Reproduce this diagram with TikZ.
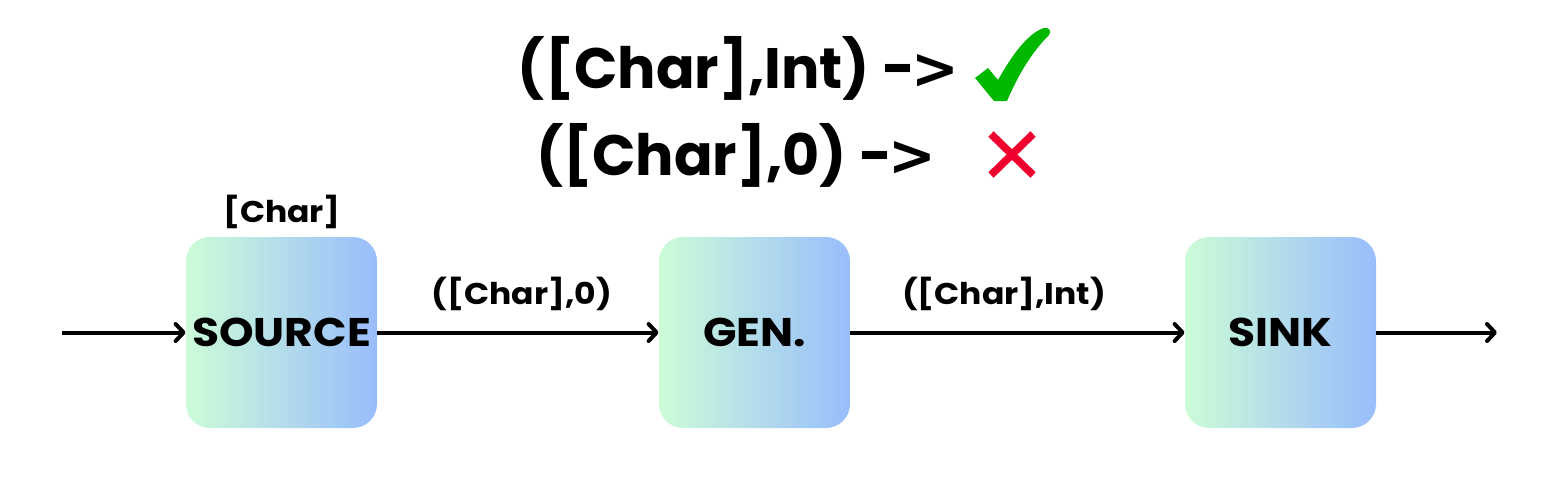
\documentclass[tikz,border=0pt]{standalone}
\usepackage{fontspec}
\setmainfont{Poppins}
\newfontfamily\widefont{Poppins}[FakeStretch=1.1]
\newfontfamily\gtfont{DejaVu Sans}
\newcommand{\bigarrow}{-\kern-0.06em{\gtfont\bfseries >}}
\usetikzlibrary{arrows.meta}
\definecolor{boxleft}{RGB}{204,252,216}
\definecolor{boxright}{RGB}{153,189,252}
\definecolor{okgreen}{RGB}{0,184,0}
\definecolor{badred}{RGB}{240,0,45}
\tikzset{
  stage/.style={rounded corners=12pt, left color=boxleft, right color=boxright, draw=none,
    minimum width=95.5pt, minimum height=95.5pt, inner sep=0pt,
    font=\widefont\fontsize{20}{24}\selectfont\bfseries},
  flow/.style={line width=2pt, -{Straight Barb[length=4pt,width=8.5pt,line width=2pt,round]}},
  lbl/.style={inner sep=0pt, font=\widefont\fontsize{15}{18}\selectfont\bfseries},
  title/.style={inner sep=0pt, font=\fontsize{28.5}{34}\selectfont\bfseries},
}
\begin{document}
\begin{tikzpicture}[x=0.5pt,y=-0.5pt]
\useasboundingbox (0,0) rectangle (1553,495);
\node[stage] (src) at (281.5,332.5) {SOURCE};
\node[stage] (gen) at (754.5,332.5) {GEN.};
\node[stage] (snk) at (1280.5,332.5) {SINK};
\coordinate (in) at (62,332.5);
\coordinate (out) at (1497,332.5);
\draw[flow] (in) -- (src.west);
\draw[flow] (src.east) -- (gen.west);
\draw[flow] (gen.east) -- (snk.west);
\draw[flow] (snk.east) -- (out);
\node[lbl, anchor=base] (srclbl) at (282,222) {[Char]};
\node[lbl, anchor=base] (l1) at (522,304) {([Char],0)};
\node[lbl, anchor=base] (l2) at (1004,304) {([Char],Int)};
\node[title, anchor=base east] (t1) at (960,88) {([Char],Int) \bigarrow};
\node[title, anchor=base east] (t2) at (937,175) {([Char],0) \bigarrow};
% check mark
\fill[okgreen] (975,78) -- (988,68) -- (998,80)
  .. controls (1012,55) and (1028,33) .. (1044,28)
  .. controls (1049,27) and (1052,31) .. (1049,35)
  .. controls (1032,52) and (1018,75) .. (1007,101)
  -- (994,101) -- cycle;
% cross
\draw[badred, line width=3.8pt] (991,134) -- (1033,175) (1033,134) -- (991,175);
\end{tikzpicture}
\end{document}
